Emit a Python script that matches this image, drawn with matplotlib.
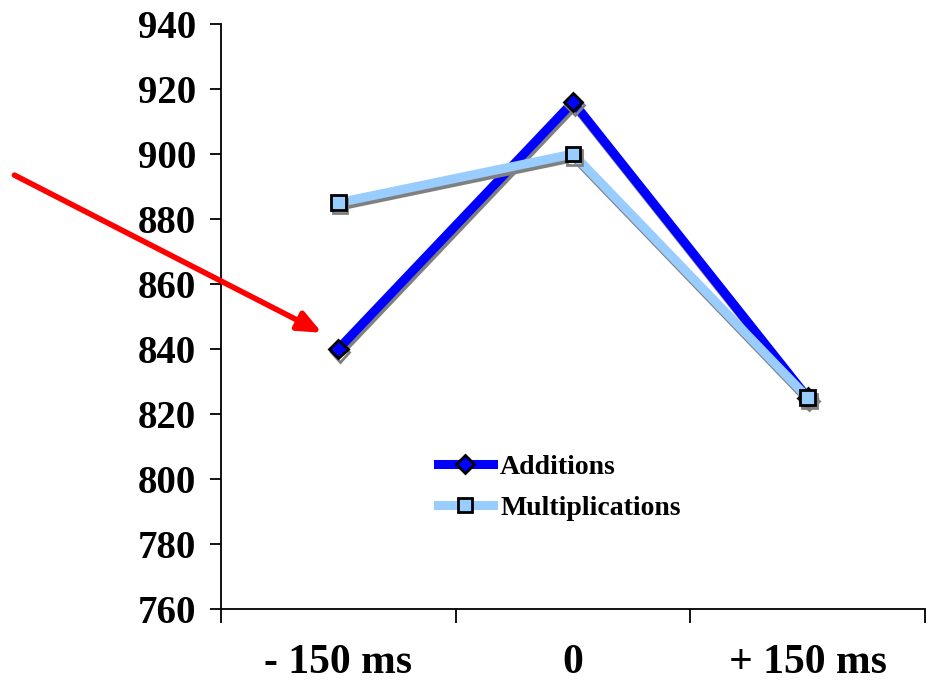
import numpy as np
import matplotlib.pyplot as plt
import matplotlib.patheffects as pe
from matplotlib.lines import Line2D

# データ
categories = ['- 150 ms', '0', '+ 150 ms']
additions = [840, 916, 825]
multiplications = [885, 900, 825]
yticks = np.arange(760, 941, 20)

plt.rcParams['font.family'] = ['Liberation Serif', 'DejaVu Serif']
plt.rcParams['font.weight'] = 'bold'

fig = plt.figure(figsize=(9.27, 6.8), dpi=100)
ax = fig.add_axes([0.2384, 0.1044, 0.7596, 0.8603])

x = np.arange(len(categories))
shadow = [pe.SimpleLineShadow(offset=(1.2, -2.4), shadow_color='#808080', alpha=1.0),
          pe.Normal()]

style_a = dict(color='#0000FF', lw=6.5, marker='D', ms=9.5,
               mfc='#0000FF', mec='black', mew=2)
style_m = dict(color='#99CCFF', lw=6.5, marker='s', ms=10.5,
               mfc='#99CCFF', mec='black', mew=2)

ax.plot(x, additions, **style_a, path_effects=shadow, zorder=3)
ax.plot(x, multiplications, **style_m, path_effects=shadow, zorder=4)

ax.set_xlim(-0.5, 2.5)
ax.set_ylim(760, 940)
ax.set_yticks(yticks)
ax.tick_params(axis='y', labelsize=28, length=8, width=1.3, pad=10)

# 区切り目盛りとカテゴリラベル
ax.set_xticks([-0.5, 0.5, 1.5, 2.5])
ax.set_xticklabels([])
ax.tick_params(axis='x', which='major', length=10, width=1.3)
ax.set_xticks(x, minor=True)
ax.set_xticklabels(categories, minor=True)
ax.tick_params(axis='x', which='minor', length=0, labelsize=30, pad=25)

for s in ['top', 'right']:
    ax.spines[s].set_visible(False)
for s in ['left', 'bottom']:
    ax.spines[s].set_linewidth(1.3)

# 凡例 (影なし)
handles = [Line2D([], [], **style_a), Line2D([], [], **style_m)]
ax.legend(handles, ['Additions', 'Multiplications'],
          loc='upper left', bbox_to_anchor=(0.292, 0.283), frameon=False,
          fontsize=20, handlelength=2.0, handletextpad=0.25,
          labelspacing=0.55, borderaxespad=0)

# 赤い矢印
ax.annotate('', xy=(-0.07, 845), xytext=(-1.38, 893.5),
            xycoords='data', textcoords='data', annotation_clip=False,
            arrowprops=dict(arrowstyle='-|>,head_length=1.4,head_width=0.6',
                            color='#FF0000', lw=4, shrinkA=0, shrinkB=0))

fig.savefig('out.png', dpi=100)
